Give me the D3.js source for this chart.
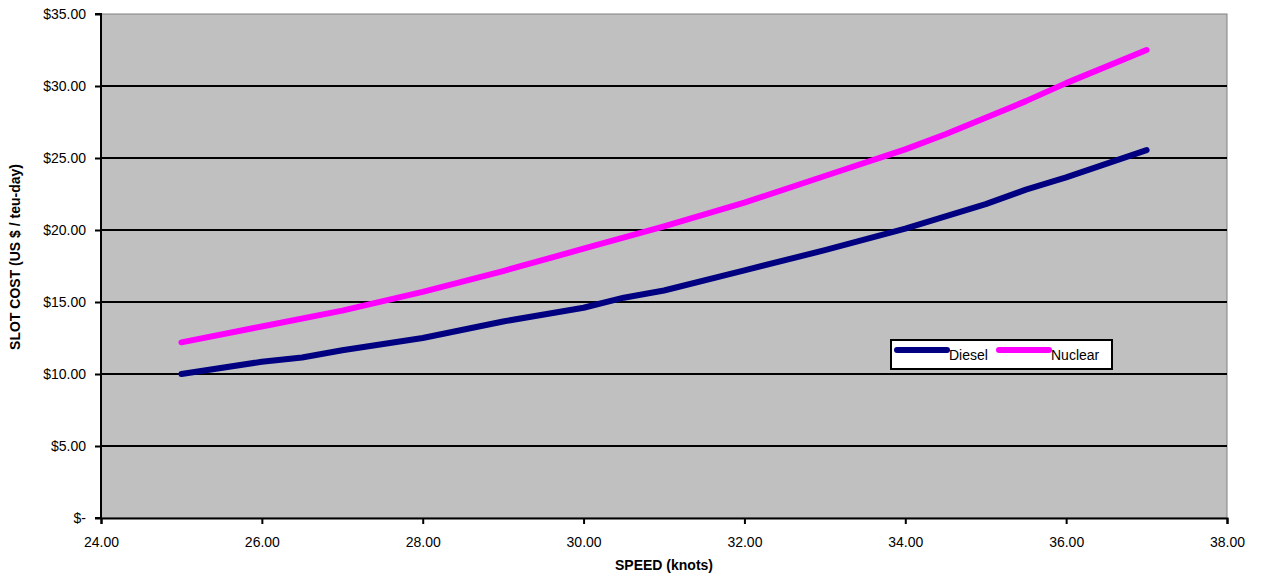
<!DOCTYPE html>
<html><head><meta charset="utf-8">
<script src="https://cdn.jsdelivr.net/npm/d3@7"></script>
<style>body{margin:0;background:#fff;}svg{display:block;font-family:"Liberation Sans",Arial,sans-serif;}</style>
</head><body><svg id="c" width="1262" height="584"></svg>
<script>
const dieselSpeed = [25, 26, 26.5, 27, 28, 29, 30, 30.5, 31, 32, 33, 34, 35, 35.5, 36, 37];
const dieselCost  = [10.0, 10.85, 11.15, 11.65, 12.5, 13.65, 14.6, 15.3, 15.8, 17.2, 18.6, 20.1, 21.8, 22.8, 23.65, 25.55];
const nuclearSpeed = [25, 26, 27, 28, 29, 30, 31, 32, 33, 34, 34.5, 35, 35.5, 36, 37];
const nuclearCost  = [12.2, 13.3, 14.4, 15.7, 17.15, 18.7, 20.25, 21.9, 23.75, 25.6, 26.65, 27.8, 28.95, 30.2, 32.5];
const xTicks = [24, 26, 28, 30, 32, 34, 36, 38];
const yTicks = [0, 5, 10, 15, 20, 25, 30, 35];
const seriesNames = ["Diesel", "Nuclear"];
const seriesColors = ["#000080", "#ff00ff"];

const svg = d3.select("#c");
const L = 101, R = 1227, T = 14, B = 518;
const x = d3.scaleLinear().domain([24, 38]).range([L, R]);
const y = d3.scaleLinear().domain([0, 35]).range([B, T]);

svg.append("rect").attr("x", L).attr("y", T).attr("width", R - L).attr("height", B - T)
  .attr("fill", "#c0c0c0").attr("stroke", "#808080").attr("stroke-width", 1);

// gridlines
svg.append("g").selectAll("line").data(yTicks.filter(v => v > 0 && v < 35)).join("line")
  .attr("x1", L).attr("x2", R).attr("y1", d => y(d)).attr("y2", d => y(d))
  .attr("stroke", "#000").attr("stroke-width", 2);

const fmtY = v => v === 0 ? "$-" : "$" + v.toFixed(2);
const yAxis = svg.append("g").attr("transform", `translate(${L},0)`)
  .call(d3.axisLeft(y).tickValues(yTicks).tickFormat(fmtY).tickSize(6).tickPadding(9));
const xAxis = svg.append("g").attr("transform", `translate(0,${B})`)
  .call(d3.axisBottom(x).tickValues(xTicks).tickFormat(d => d.toFixed(2)).tickSize(6).tickPadding(13));
[yAxis, xAxis].forEach(g => {
  g.select(".domain").attr("stroke", "#000").attr("stroke-width", 2);
  g.selectAll(".tick line").attr("stroke", "#000").attr("stroke-width", 2);
  g.selectAll("text").attr("fill", "#000").attr("font-size", 14).attr("font-family", "Liberation Sans, Arial, sans-serif");
});
yAxis.select(".domain").attr("d", `M-6,${B}H0V${T}H-6`);

const line = d3.line().x(d => x(d[0])).y(d => y(d[1]));
const data = [
  dieselSpeed.map((s, i) => [s, dieselCost[i]]),
  nuclearSpeed.map((s, i) => [s, nuclearCost[i]])
];
data.forEach((pts, i) => {
  svg.append("path").datum(pts).attr("d", line).attr("fill", "none")
    .attr("stroke", seriesColors[i]).attr("stroke-width", 6)
    .attr("stroke-linecap", "round").attr("stroke-linejoin", "round");
});

// legend
const lg = svg.append("g");
lg.append("rect").attr("x", 891).attr("y", 340).attr("width", 221).attr("height", 29)
  .attr("fill", "#fff").attr("stroke", "#000").attr("stroke-width", 2);
const lx = [897, 999];
seriesNames.forEach((n, i) => {
  lg.append("line").attr("x1", lx[i]).attr("x2", lx[i] + 50).attr("y1", 350).attr("y2", 350)
    .attr("stroke", seriesColors[i]).attr("stroke-width", 6).attr("stroke-linecap", "round");
  lg.append("text").attr("x", lx[i] + 52).attr("y", 360).attr("font-size", 14).attr("fill", "#000").text(n);
});

svg.append("text").attr("x", 664).attr("y", 570).attr("text-anchor", "middle")
  .attr("font-size", 14).attr("font-weight", "bold").text("SPEED (knots)");
svg.append("text").attr("transform", "translate(20,257) rotate(-90)").attr("text-anchor", "middle")
  .attr("font-size", 14).attr("font-weight", "bold").text("SLOT COST (US $ / teu-day)");
</script></body></html>
